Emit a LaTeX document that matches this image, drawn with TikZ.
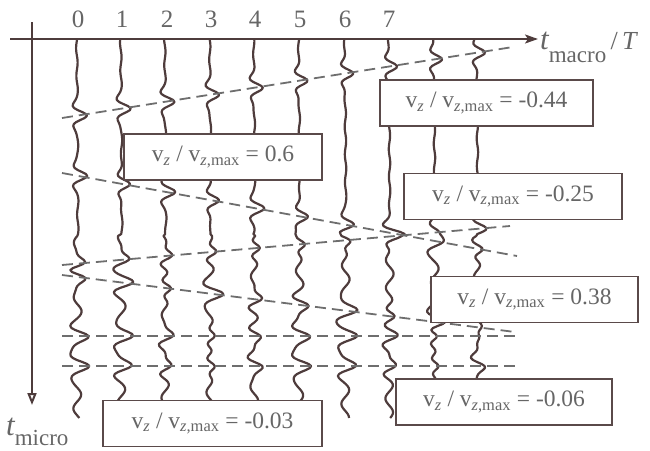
\documentclass[tikz,border=0pt]{standalone}
\usepackage{fontspec}
\setmainfont{Liberation Serif}
\usetikzlibrary{arrows.meta}
\definecolor{wline}{HTML}{4E3C3C}
\definecolor{dline}{HTML}{6E6E6E}
\definecolor{boxc}{HTML}{5A4A4A}
\definecolor{txt}{HTML}{666666}
\begin{document}
\begin{tikzpicture}[x=1pt,y=-1pt,
  declare function={
    rk(\u)=(1-2*\u*\u)*exp(-min(\u*\u,12));
    wv(\p,\t,\h)=\p
      +9*rk((\t-118+0.157*(\p-62))/8)
      +9*rk((\t-173-0.183*(\p-62))/8)
      +9*rk((\t-265+0.0875*(\p-62))/8)
      +9*rk((\t-275-0.1255*(\p-62))/8)
      +8*rk((\t-336)/8)
      +8*rk((\t-366)/8)
      +(0.7+3.2*(\t>235))*sin(13*\t+\h);
  },
  wave/.style={draw=wline,line width=2.2pt,line join=round},
  axisline/.style={draw=wline,line width=2pt},
  dashline/.style={draw=dline,line width=1.8pt,dash pattern=on 11pt off 6pt},
  vbox/.style={draw=boxc,fill=white,line width=1.4pt,minimum height=46pt,
    inner sep=0pt,font=\fontsize{23.5}{24}\selectfont,text=txt},
  numlab/.style={font=\fontsize{25}{25}\selectfont,text=txt},
  axlab/.style={anchor=base west,text=txt,inner sep=0pt}
]
\useasboundingbox (0,0) rectangle (650,450);

% axes
\coordinate (hL) at (10,39);
\coordinate (hR) at (538,39);
\coordinate (vT) at (32,22);
\coordinate (vB) at (32,405);
\draw[axisline,-{Stealth[length=13pt,width=9pt,inset=3pt]}] (hL) -- (hR);
\draw[axisline,-{Triangle[open,length=12pt,width=9pt,fill=white]}] (vT) -- (vB);

% column numbers
\node[numlab] (n0) at (78,19) {0};
\node[numlab] (n1) at (122,19) {1};
\node[numlab] (n2) at (167,19) {2};
\node[numlab] (n3) at (211,19) {3};
\node[numlab] (n4) at (255,19) {4};
\node[numlab] (n5) at (300,19) {5};
\node[numlab] (n6) at (345,19) {6};
\node[numlab] (n7) at (389,19) {7};

% axis labels
\node[axlab] (tma) at (540,49) {{\fontsize{31}{31}\selectfont\itshape t}\raisebox{-13pt}{\fontsize{23}{23}\selectfont macro}{\fontsize{26}{26}\selectfont\,/\,\itshape T}};
\node[axlab] (tmi) at (6,435) {{\fontsize{31}{31}\selectfont\itshape t}\raisebox{-10pt}{\fontsize{23}{23}\selectfont micro}};

% wavy vertical lines
\draw[wave] plot[variable=\t,domain=40:418,samples=190] ({wv(78,\t,0)},\t);
\draw[wave] plot[variable=\t,domain=40:402,samples=182] ({wv(122,\t,70)},\t);
\draw[wave] plot[variable=\t,domain=40:402,samples=182] ({wv(166,\t,140)},\t);
\draw[wave] plot[variable=\t,domain=40:402,samples=182] ({wv(211,\t,210)},\t);
\draw[wave] plot[variable=\t,domain=40:402,samples=182] ({wv(255,\t,280)},\t);
\draw[wave] plot[variable=\t,domain=40:402,samples=182] ({wv(300,\t,350)},\t);
\draw[wave] plot[variable=\t,domain=40:418,samples=190] ({wv(346,\t,60)},\t);
\draw[wave] plot[variable=\t,domain=40:418,samples=190] ({wv(390,\t,130)},\t);
\draw[wave] plot[variable=\t,domain=40:382,samples=172] ({wv(435,\t,200)},\t);
\draw[wave] plot[variable=\t,domain=40:382,samples=172] ({wv(478,\t,270)},\t);

% dashed pulse lines
\coordinate (d1a) at (62,118); \coordinate (d1b) at (513,47);
\coordinate (d2a) at (62,173); \coordinate (d2b) at (517,256);
\coordinate (d3a) at (62,265); \coordinate (d3b) at (510,226);
\coordinate (d4a) at (62,275); \coordinate (d4b) at (515,332);
\coordinate (d5a) at (62,336); \coordinate (d5b) at (515,336);
\coordinate (d6a) at (62,366); \coordinate (d6b) at (515,366);
\draw[dashline] (d1a) -- (d1b);
\draw[dashline] (d2a) -- (d2b);
\draw[dashline] (d3a) -- (d3b);
\draw[dashline] (d4a) -- (d4b);
\draw[dashline] (d5a) -- (d5b);
\draw[dashline] (d6a) -- (d6b);

% boxes
\node[vbox,minimum width=198pt] (b1) at (223,157) {v\textsubscript{\itshape z} / v\textsubscript{\itshape z\upshape,max} = 0.6};
\node[vbox,minimum width=213pt] (b2) at (486.5,103) {v\textsubscript{\itshape z} / v\textsubscript{\itshape z\upshape,max} = -0.44};
\node[vbox,minimum width=218pt] (b3) at (513,196.5) {v\textsubscript{\itshape z} / v\textsubscript{\itshape z\upshape,max} = -0.25};
\node[vbox,minimum width=207pt] (b4) at (534.5,299.5) {v\textsubscript{\itshape z} / v\textsubscript{\itshape z\upshape,max} = 0.38};
\node[vbox,minimum width=216pt] (b5) at (504,402) {v\textsubscript{\itshape z} / v\textsubscript{\itshape z\upshape,max} = -0.06};
\node[vbox,minimum width=219pt] (b6) at (212.5,423.5) {v\textsubscript{\itshape z} / v\textsubscript{\itshape z\upshape,max} = -0.03};
\end{tikzpicture}
\end{document}
